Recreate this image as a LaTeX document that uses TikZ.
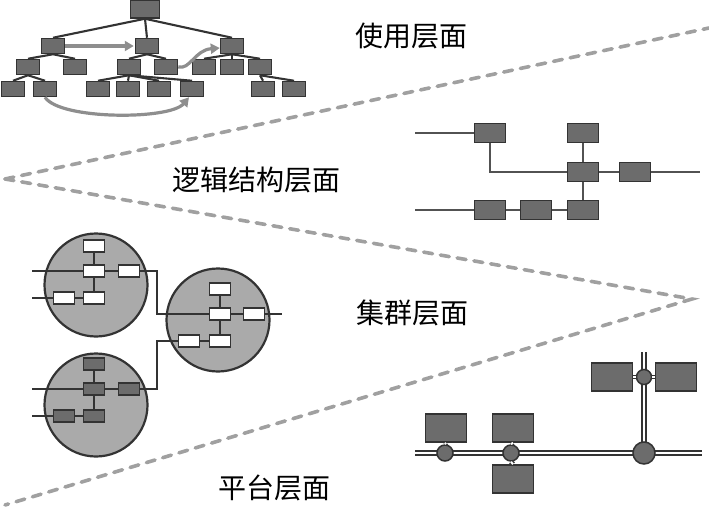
\documentclass[tikz,border=0pt]{standalone}
\usepackage{fontspec}
\newfontfamily\cjk{Noto Sans CJK SC}
\usetikzlibrary{arrows.meta,backgrounds}
\pgfdeclarelayer{mid}
\pgfsetlayers{background,mid,main}
\definecolor{boxfill}{HTML}{6C6C6C}
\definecolor{boxline}{HTML}{333333}
\definecolor{dashgray}{HTML}{A0A0A0}
\definecolor{arrgray}{HTML}{8E8E8E}
\definecolor{circfill}{HTML}{AAAAAA}
\tikzset{
  tbox/.style={draw=boxline,fill=boxfill,line width=1.5pt,minimum width=23pt,minimum height=15pt,inner sep=0pt},
  lbox/.style={draw=boxline,fill=boxfill,line width=1.6pt,minimum width=31pt,minimum height=19pt,inner sep=0pt},
  wbox/.style={draw=boxline,fill=white,line width=1.9pt,minimum width=21pt,minimum height=12pt,inner sep=0pt},
  dbox/.style={draw=boxline,fill=boxfill,line width=1.9pt,minimum width=21pt,minimum height=12pt,inner sep=0pt},
  pbox/.style={draw=boxline,fill=boxfill,line width=1.6pt,minimum width=41pt,minimum height=28pt,inner sep=0pt},
  clus/.style={circle,draw=boxline,fill=circfill,line width=2.2pt,minimum size=103pt,inner sep=0pt},
  hub/.style={circle,draw=boxline,fill=boxfill,line width=1.5pt,inner sep=0pt},
  tline/.style={draw=boxline,line width=2.1pt},
  lline/.style={draw=boxline!85,line width=2.3pt},
  cline/.style={draw=boxline,line width=2.3pt},
  dline/.style={draw=boxline,double=white,double distance=2.5pt,line width=1.4pt},
  sep/.style={draw=dashgray,line width=3.6pt,dash pattern=on 9pt off 8pt,line cap=round},
  garr/.style={draw=arrgray,line width=3.2pt,-{Triangle[length=9pt,width=10pt]}},
  lbl/.style={font=\cjk\fontsize{28}{30}\selectfont,inner sep=0pt}
}
\begin{document}
\begin{tikzpicture}[x=1pt,y=-1pt]
\useasboundingbox (0,0) rectangle (709,508);
% separators
\coordinate (L) at (5,179);
\coordinate (TR) at (709,28);
\coordinate (R) at (692,299);
\coordinate (BL) at (5,505);
\begin{pgfonlayer}{background}
\draw[sep] (L) -- (TR);
\draw[sep] (L) -- (R) -- (BL);
\end{pgfonlayer}
% labels
\node[lbl] (t1) at (411,36) {使用层面};
\node[lbl] (t2) at (256,180) {逻辑结构层面};
\node[lbl] (t3) at (412,313) {集群层面};
\node[lbl] (t4) at (274,488) {平台层面};

% ---------- usage tree ----------
\node[tbox,minimum width=29pt,minimum height=18pt] (r) at (145,9) {};
\node[tbox] (a1) at (53,46) {};
\node[tbox] (a2) at (147,46) {};
\node[tbox] (a3) at (232,46) {};
\node[tbox] (b1) at (28,67) {};
\node[tbox] (b2) at (75,67) {};
\node[tbox] (b3) at (129,67) {};
\node[tbox] (b4) at (166,67) {};
\node[tbox] (b5) at (204,67) {};
\node[tbox] (b6) at (232,67) {};
\node[tbox] (b7) at (260,67) {};
\node[tbox] (c1) at (13,89) {};
\node[tbox] (c2) at (45,89) {};
\node[tbox] (c3) at (98,89) {};
\node[tbox] (c4) at (128,89) {};
\node[tbox] (c5) at (159,89) {};
\node[tbox] (c6) at (192,89) {};
\node[tbox] (c7) at (263,89) {};
\node[tbox] (c8) at (294,89) {};
\begin{pgfonlayer}{mid}
\foreach \x in {a1,a2,a3} \draw[tline] (r.south) -- (\x.north);
\foreach \x in {b1,b2} \draw[tline] (a1.south) -- (\x.north);
\foreach \x in {b3,b4} \draw[tline] (a2.south) -- (\x.north);
\foreach \x in {b5,b6,b7} \draw[tline] (a3.south) -- (\x.north);
\foreach \x in {c1,c2} \draw[tline] (b1.south) -- (\x.north);
\foreach \x in {c3,c4,c5,c6} \draw[tline] (b3.south) -- (\x.north);
\foreach \x in {c7,c8} \draw[tline] (b7.south) -- (\x.north);
\end{pgfonlayer}
% gray arrows
\draw[garr] (a1.east) -- ([xshift=-1pt]a2.west);
\draw[garr] (b4.east) .. controls (190,70) and (195,50) .. ([yshift=-2pt]a3.west);
\draw[garr] (c2.south) .. controls (60,120) and (170,120) .. ([xshift=-3pt]c6.south);

% ---------- logic structure ----------
\node[lbox] (A) at (490,133) {};
\node[lbox] (B) at (583,133) {};
\node[lbox] (C) at (583,172) {};
\node[lbox] (D) at (635,172) {};
\node[lbox] (E) at (490,210) {};
\node[lbox] (F) at (536,210) {};
\node[lbox] (G) at (583,210) {};
\coordinate (la) at (415,133);
\coordinate (le) at (415,210);
\coordinate (ld) at (700,172);
\begin{pgfonlayer}{mid}
\draw[lline] (la) -- (A.west);
\draw[lline] (A.south) |- (C.west);
\draw[lline] (B.south) -- (C.north);
\draw[lline] (C.east) -- (D.west);
\draw[lline] (D.east) -- (ld);
\draw[lline] (C.south) -- (G.north);
\draw[lline] (le) -- (E.west);
\draw[lline] (E.east) -- (F.west);
\draw[lline] (F.east) -- (G.west);
\end{pgfonlayer}

% ---------- clusters ----------
\begin{pgfonlayer}{background}
\node[clus] (K1) at (96,285) {};
\node[clus] (K2) at (218,320) {};
\node[clus] (K3) at (96,405) {};
\end{pgfonlayer}
\coordinate (k1a) at (32,271);
\coordinate (k1b) at (32,298);
\coordinate (j1) at (157,271);
\coordinate (j2) at (157,314);
\coordinate (k2e) at (282,314);
\coordinate (j3) at (157,389);
\coordinate (j4) at (157,341);
\coordinate (k3a) at (32,389);
\coordinate (k3b) at (32,416);
\node[wbox] (w1) at (94,246) {};
\node[wbox] (w2) at (94,271) {};
\node[wbox] (w3) at (129,271) {};
\node[wbox] (w4) at (64,298) {};
\node[wbox] (w5) at (94,298) {};
\node[wbox] (v1) at (220,289) {};
\node[wbox] (v2) at (220,314) {};
\node[wbox] (v3) at (254,314) {};
\node[wbox] (v4) at (189,341) {};
\node[wbox] (v5) at (220,341) {};
\node[dbox] (u1) at (94,364) {};
\node[dbox] (u2) at (94,389) {};
\node[dbox] (u3) at (129,389) {};
\node[dbox] (u4) at (64,416) {};
\node[dbox] (u5) at (94,416) {};
\begin{pgfonlayer}{mid}
\draw[cline] (k1a) -- (w2.west);
\draw[cline] (w2.east) -- (w3.west);
\draw[cline] (w3.east) -- (j1) -- (j2) -- (v2.west);
\draw[cline] (v2.east) -- (v3.west);
\draw[cline] (v3.east) -- (k2e);
\draw[cline] (k1b) -- (w4.west);
\draw[cline] (w4.east) -- (w5.west);
\draw[cline] (w1.south) -- (w2.north);
\draw[cline] (w2.south) -- (w5.north);
\draw[cline] (v1.south) -- (v2.north);
\draw[cline] (v2.south) -- (v5.north);
\draw[cline] (k3a) -- (u2.west);
\draw[cline] (u2.east) -- (u3.west);
\draw[cline] (u3.east) -- (j3) -- (j4) -- (v4.west);
\draw[cline] (v4.east) -- (v5.west);
\draw[cline] (k3b) -- (u4.west);
\draw[cline] (u4.east) -- (u5.west);
\draw[cline] (u1.south) -- (u2.north);
\draw[cline] (u2.south) -- (u5.north);
\end{pgfonlayer}

% ---------- platform ----------
\coordinate (pa) at (415,453);
\coordinate (pb) at (702,453);
\coordinate (pt) at (644,352);
\node[pbox] (p1) at (446,428) {};
\node[pbox] (p2) at (513,428) {};
\node[pbox] (p3) at (513,479) {};
\node[pbox] (p4) at (612,377) {};
\node[pbox] (p5) at (676,377) {};
\draw[dline] (pa) -- (pb);
\draw[dline] (pt) -- (644,453);
\node[hub,minimum size=16pt] (h1) at (445,453) {};
\node[hub,minimum size=16pt] (h2) at (511,453) {};
\node[hub,minimum size=22pt] (h3) at (644,453) {};
\node[hub,minimum size=15pt] (h4) at (644,377) {};
\draw[dline,double distance=2pt] (p1.south) -- (h1.north);
\draw[dline,double distance=2pt] (p2.south) -- (h2.north);
\draw[dline,double distance=2pt] (h2.south) -- (p3.north);
\draw[dline,double distance=2pt] (p4.east) -- (h4.west);
\draw[dline,double distance=2pt] (h4.east) -- (p5.west);
\end{tikzpicture}
\end{document}
